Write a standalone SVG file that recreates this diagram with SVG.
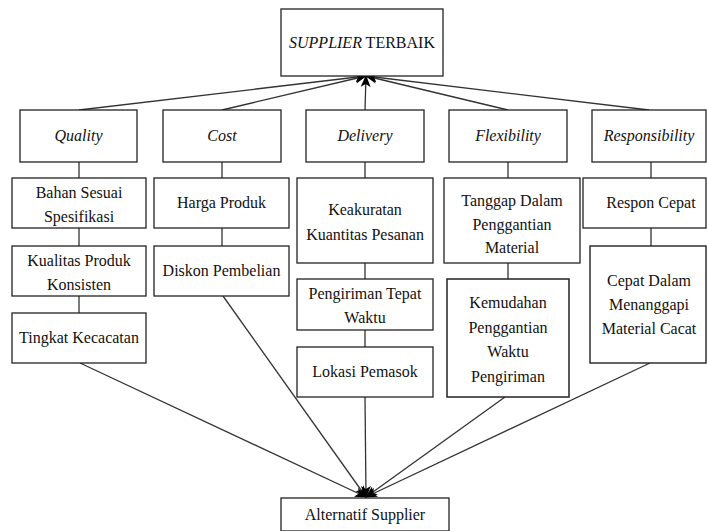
<svg xmlns="http://www.w3.org/2000/svg" width="707" height="531" viewBox="0 0 707 531">
<style>
.b{fill:#fff;stroke:#222;stroke-width:1.3}
.c{stroke:#333;stroke-width:1.3;fill:none}
</style>
<defs>
<marker id="ah" markerUnits="userSpaceOnUse" markerWidth="12" markerHeight="12" viewBox="0 0 12 12" refX="11" refY="6" orient="auto">
<path d="M0,1 L12,6 L0,11 L3,6 Z" fill="#000"/>
</marker>
</defs>
<rect width="707" height="531" fill="#fff"/>
<g id="connectors">
<line class="c" x1="79" y1="110" x2="366" y2="76" marker-end="url(#ah)"/>
<line class="c" x1="222" y1="110" x2="366" y2="76" marker-end="url(#ah)"/>
<line class="c" x1="365" y1="110" x2="366" y2="76" marker-end="url(#ah)"/>
<line class="c" x1="508" y1="110" x2="366" y2="76" marker-end="url(#ah)"/>
<line class="c" x1="649" y1="110" x2="366" y2="76" marker-end="url(#ah)"/>
<line class="c" x1="79" y1="162" x2="79" y2="178"/>
<line class="c" x1="79" y1="228" x2="79" y2="246"/>
<line class="c" x1="79" y1="296" x2="79" y2="313"/>
<line class="c" x1="222" y1="162" x2="222" y2="178"/>
<line class="c" x1="222" y1="228" x2="222" y2="246"/>
<line class="c" x1="365" y1="162" x2="365" y2="178"/>
<line class="c" x1="365" y1="263" x2="365" y2="279"/>
<line class="c" x1="365" y1="330" x2="365" y2="347"/>
<line class="c" x1="508" y1="162" x2="508" y2="178"/>
<line class="c" x1="508" y1="263" x2="508" y2="279"/>
<line class="c" x1="651" y1="162" x2="651" y2="178"/>
<line class="c" x1="651" y1="228" x2="651" y2="246"/>
<line class="c" x1="80" y1="363" x2="366" y2="497" marker-end="url(#ah)"/>
<line class="c" x1="223" y1="296" x2="366" y2="497" marker-end="url(#ah)"/>
<line class="c" x1="365" y1="397" x2="366" y2="497" marker-end="url(#ah)"/>
<line class="c" x1="505" y1="397" x2="366" y2="497" marker-end="url(#ah)"/>
<line class="c" x1="650" y1="363" x2="366" y2="497" marker-end="url(#ah)"/>
</g>
<g id="supplier-terbaik"><rect class="b" x="281" y="9" width="162" height="67"/><text font-family="Liberation Serif" font-size="16" fill="#111" text-anchor="middle" x="362" y="48"><tspan font-style="italic">SUPPLIER</tspan> TERBAIK</text></g>
<g id="quality"><rect class="b" x="20" y="110" width="117" height="52"/><text font-family="Liberation Serif" font-size="16" fill="#111" text-anchor="middle" font-style="italic" x="78.5" y="141">Quality</text></g>
<g id="cost"><rect class="b" x="163" y="110" width="118" height="52"/><text font-family="Liberation Serif" font-size="16" fill="#111" text-anchor="middle" font-style="italic" x="222" y="141">Cost</text></g>
<g id="delivery"><rect class="b" x="306" y="110" width="118" height="52"/><text font-family="Liberation Serif" font-size="16" fill="#111" text-anchor="middle" font-style="italic" x="365" y="141">Delivery</text></g>
<g id="flexibility"><rect class="b" x="449" y="110" width="118" height="52"/><text font-family="Liberation Serif" font-size="16" fill="#111" text-anchor="middle" font-style="italic" x="508" y="141">Flexibility</text></g>
<g id="responsibility"><rect class="b" x="592" y="110" width="114" height="52"/><text font-family="Liberation Serif" font-size="16" fill="#111" text-anchor="middle" font-style="italic" x="649" y="141">Responsibility</text></g>
<g id="bahan"><rect class="b" x="12" y="178" width="134" height="50"/><text font-family="Liberation Serif" font-size="16" fill="#111" text-anchor="middle" x="79" y="198">Bahan Sesuai</text><text font-family="Liberation Serif" font-size="16" fill="#111" text-anchor="middle" x="79" y="222">Spesifikasi</text></g>
<g id="kualitas"><rect class="b" x="12" y="246" width="134" height="50"/><text font-family="Liberation Serif" font-size="16" fill="#111" text-anchor="middle" x="79" y="266">Kualitas Produk</text><text font-family="Liberation Serif" font-size="16" fill="#111" text-anchor="middle" x="79" y="290">Konsisten</text></g>
<g id="tingkat"><rect class="b" x="12" y="313" width="134" height="50"/><text font-family="Liberation Serif" font-size="16" fill="#111" text-anchor="middle" x="79" y="343">Tingkat Kecacatan</text></g>
<g id="harga"><rect class="b" x="154" y="178" width="135" height="50"/><text font-family="Liberation Serif" font-size="16" fill="#111" text-anchor="middle" x="221.5" y="208">Harga Produk</text></g>
<g id="diskon"><rect class="b" x="154" y="246" width="135" height="50"/><text font-family="Liberation Serif" font-size="16" fill="#111" text-anchor="middle" x="221.5" y="276">Diskon Pembelian</text></g>
<g id="keakuratan"><rect class="b" x="297" y="178" width="136" height="85"/><text font-family="Liberation Serif" font-size="16" fill="#111" text-anchor="middle" x="365" y="215">Keakuratan</text><text font-family="Liberation Serif" font-size="16" fill="#111" text-anchor="middle" x="365" y="240">Kuantitas Pesanan</text></g>
<g id="pengiriman"><rect class="b" x="297" y="279" width="136" height="51"/><text font-family="Liberation Serif" font-size="16" fill="#111" text-anchor="middle" x="365" y="299">Pengiriman Tepat</text><text font-family="Liberation Serif" font-size="16" fill="#111" text-anchor="middle" x="365" y="323">Waktu</text></g>
<g id="lokasi"><rect class="b" x="297" y="347" width="136" height="50"/><text font-family="Liberation Serif" font-size="16" fill="#111" text-anchor="middle" x="365" y="377">Lokasi Pemasok</text></g>
<g id="tanggap"><rect class="b" x="444" y="178" width="136" height="85"/><text font-family="Liberation Serif" font-size="16" fill="#111" text-anchor="middle" x="512" y="206">Tanggap Dalam</text><text font-family="Liberation Serif" font-size="16" fill="#111" text-anchor="middle" x="512" y="230">Penggantian</text><text font-family="Liberation Serif" font-size="16" fill="#111" text-anchor="middle" x="512" y="253">Material</text></g>
<g id="kemudahan"><rect class="b" x="447" y="279" width="122" height="118" style="stroke-width:1.5"/><text font-family="Liberation Serif" font-size="16" fill="#111" text-anchor="middle" x="508" y="308">Kemudahan</text><text font-family="Liberation Serif" font-size="16" fill="#111" text-anchor="middle" x="508" y="333">Penggantian</text><text font-family="Liberation Serif" font-size="16" fill="#111" text-anchor="middle" x="508" y="357">Waktu</text><text font-family="Liberation Serif" font-size="16" fill="#111" text-anchor="middle" x="508" y="382">Pengiriman</text></g>
<g id="respon"><rect class="b" x="583" y="178" width="123" height="50"/><text font-family="Liberation Serif" font-size="16" fill="#111" text-anchor="middle" x="651" y="208">Respon Cepat</text></g>
<g id="cepat"><rect class="b" x="590" y="246" width="116" height="117" style="stroke-width:1.4"/><text font-family="Liberation Serif" font-size="16" fill="#111" text-anchor="middle" x="649" y="286">Cepat Dalam</text><text font-family="Liberation Serif" font-size="16" fill="#111" text-anchor="middle" x="649" y="310">Menanggapi</text><text font-family="Liberation Serif" font-size="16" fill="#111" text-anchor="middle" x="649" y="334">Material Cacat</text></g>
<g id="alternatif"><rect class="b" x="281" y="498" width="168" height="33"/><text font-family="Liberation Serif" font-size="16" fill="#111" text-anchor="middle" x="365" y="520">Alternatif Supplier</text></g>
</svg>
